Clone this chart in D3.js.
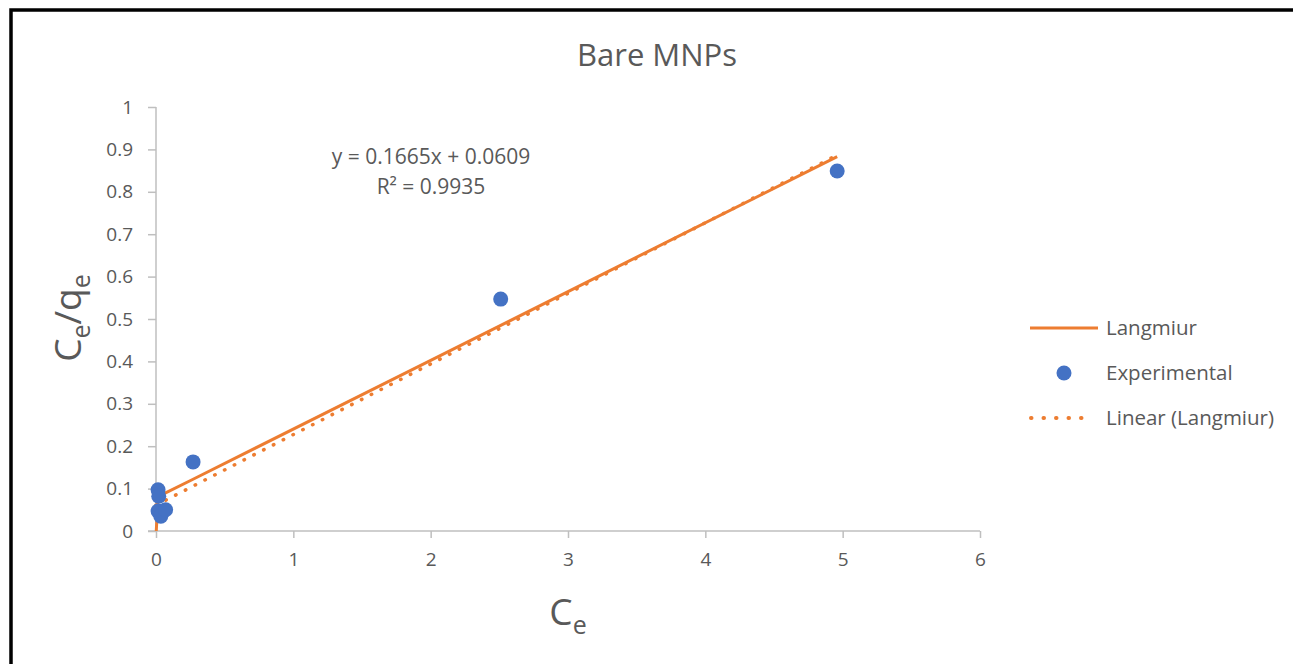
<!DOCTYPE html>
<html>
<head>
<meta charset="utf-8">
<script src="https://cdn.jsdelivr.net/npm/d3@7"></script>
<style>
  body { margin: 0; background: #fff; }
  text { font-family: "Open Sans", "Noto Sans", sans-serif; fill: #595959; }
</style>
</head>
<body>
<div id="plot"></div>
<script>
// experimental points
var expX = [0.015, 0.02, 0.015, 0.035, 0.07, 0.27, 2.51, 4.96];
var expY = [0.097, 0.082, 0.047, 0.035, 0.05, 0.163, 0.547, 0.849];
// Langmiur model series
var langX = [0.002, 0.015, 0.035, 0.07, 0.27, 2.51, 4.96];
var langY = [0.0, 0.081, 0.084, 0.09, 0.122, 0.485, 0.883];
// trendline
var slope = 0.1665, intercept = 0.0609;
var trendRange = [0, 4.96];
var xTicks = [0, 1, 2, 3, 4, 5, 6];
var yTicks = [0, 0.1, 0.2, 0.3, 0.4, 0.5, 0.6, 0.7, 0.8, 0.9, 1];

var W = 1293, H = 664;
var margin = {top: 107, left: 156};
var width = 980 - 156, height = 531 - 107;
var orange = "#ed7d31", blue = "#4472c4", axisCol = "#bfbfbf";

var svg = d3.select("#plot").append("svg")
  .attr("width", W).attr("height", H);

// outer frame
svg.append("rect")
  .attr("x", 11).attr("y", 10)
  .attr("width", W + 20).attr("height", H + 20)
  .attr("fill", "none").attr("stroke", "#000").attr("stroke-width", 3.5);

svg.append("text")
  .attr("x", 657).attr("y", 66)
  .attr("text-anchor", "middle")
  .style("font-size", "31px")
  .text("Bare MNPs");

var g = svg.append("g")
  .attr("transform", "translate(" + margin.left + "," + margin.top + ")");

var x = d3.scaleLinear().domain([0, 6]).range([0, width]);
var y = d3.scaleLinear().domain([0, 1]).range([height, 0]);

var xAxis = g.append("g")
  .attr("transform", "translate(0," + height + ")")
  .call(d3.axisBottom(x).tickValues(xTicks).tickSize(7).tickSizeOuter(0).tickPadding(15).tickFormat(d3.format("d")));
var yAxis = g.append("g")
  .call(d3.axisLeft(y).tickValues(yTicks).tickSize(8).tickSizeOuter(0).tickPadding(15)
    .tickFormat(function(d) { return d === 0 || d === 1 ? d : d3.format(".1f")(d); }));

[xAxis, yAxis].forEach(function(a) {
  a.select(".domain").attr("stroke", axisCol).attr("stroke-width", 1.5);
  a.selectAll(".tick line").attr("stroke", axisCol).attr("stroke-width", 1.5);
  a.selectAll(".tick text").style("font-size", "19px").style("font-family", "\"Open Sans\", sans-serif").attr("fill", "#595959");
});
yAxis.select(".domain").attr("d", "M0," + (height) + "V0");
xAxis.select(".domain").attr("d", "M-8,0H" + width);

// trendline (dotted)
var tl = d3.line().x(function(d) { return x(d); }).y(function(d) { return y(slope * d + intercept); });
g.append("path")
  .attr("d", tl(trendRange))
  .attr("fill", "none").attr("stroke", orange).attr("stroke-width", 3.5)
  .attr("stroke-linecap", "round").attr("stroke-dasharray", "0.5 10.5");

// Langmiur line
var ll = d3.line().x(function(d, i) { return x(langX[i]); }).y(function(d) { return y(d); });
g.append("path")
  .attr("d", ll(langY))
  .attr("fill", "none").attr("stroke", orange).attr("stroke-width", 3)
  .attr("stroke-linejoin", "round");

// experimental
g.selectAll("circle.exp")
  .data(expY)
  .enter().append("circle")
  .attr("class", "exp")
  .attr("cx", function(d, i) { return x(expX[i]); })
  .attr("cy", function(d) { return y(d); })
  .attr("r", 7.5)
  .attr("fill", blue);

// equation
svg.append("text").attr("x", 431).attr("y", 164).attr("text-anchor", "middle")
  .style("font-size", "21px").text("y = 0.1665x + 0.0609");
svg.append("text").attr("x", 431).attr("y", 194).attr("text-anchor", "middle")
  .style("font-size", "21px").text("R² = 0.9935");

// axis titles
var yt = svg.append("text")
  .attr("transform", "translate(81,318) rotate(-90)")
  .attr("text-anchor", "middle")
  .style("font-size", "37px");
yt.append("tspan").text("C");
yt.append("tspan").attr("dy", 9).style("font-size", "25px").text("e");
yt.append("tspan").attr("dy", -9).text("/q");
yt.append("tspan").attr("dy", 9).style("font-size", "25px").text("e");

var xt = svg.append("text")
  .attr("x", 568).attr("y", 625)
  .attr("text-anchor", "middle")
  .style("font-size", "37px");
xt.append("tspan").text("C");
xt.append("tspan").attr("dy", 9).style("font-size", "25px").text("e");

// legend
var leg = svg.append("g");
leg.append("line").attr("x1", 1030).attr("x2", 1098).attr("y1", 328).attr("y2", 328)
  .attr("stroke", orange).attr("stroke-width", 3);
leg.append("circle").attr("cx", 1064).attr("cy", 373).attr("r", 7.5).attr("fill", blue);
leg.append("line").attr("x1", 1031).attr("x2", 1093).attr("y1", 418).attr("y2", 418)
  .attr("stroke", orange).attr("stroke-width", 4).attr("stroke-linecap", "round")
  .attr("stroke-dasharray", "0.5 12");
var labels = ["Langmiur", "Experimental", "Linear (Langmiur)"];
leg.selectAll("text.lab").data(labels).enter().append("text")
  .attr("class", "lab")
  .attr("x", 1106).attr("y", function(d, i) { return 335 + i * 45; })
  .style("font-size", "20.5px")
  .text(function(d) { return d; });
</script>
</body>
</html>
